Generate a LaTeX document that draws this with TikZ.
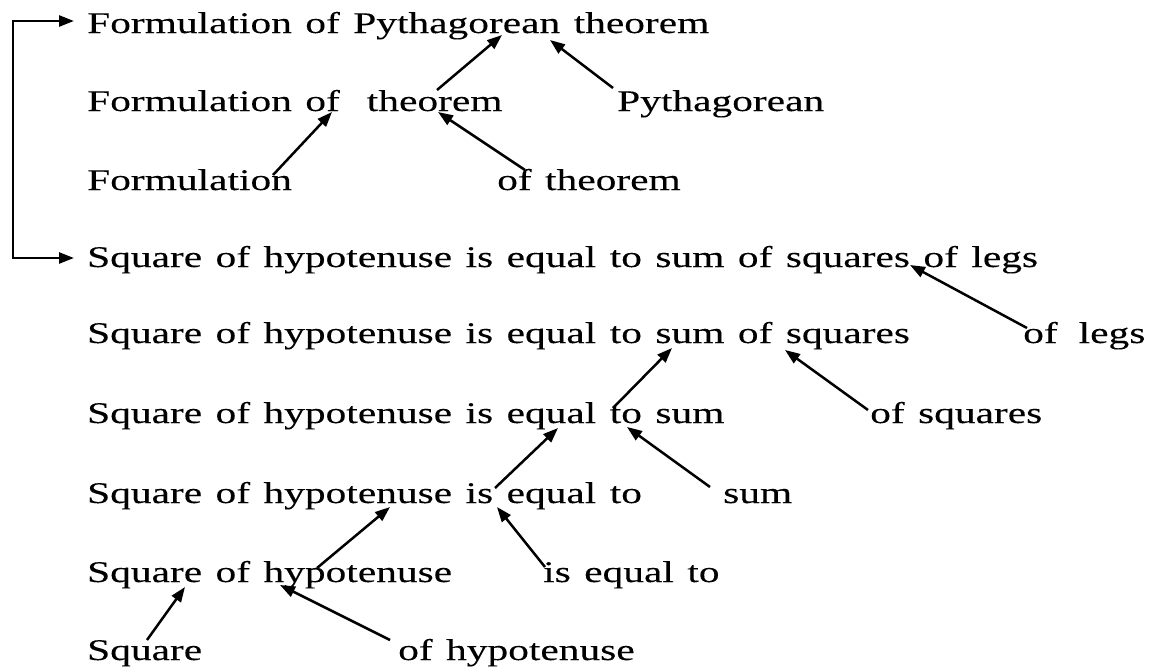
\documentclass[tikz,border=0pt]{standalone}
\usepackage{fontspec}
\setmainfont{Liberation Serif}[FakeStretch=1.38, WordSpace=1.3, FakeBold=0.15]
\usetikzlibrary{arrows.meta}
\begin{document}
\begin{tikzpicture}[x=1pt,y=-1pt,
  txt/.style={anchor=base west,inner sep=0pt,font=\fontsize{30}{36}\selectfont},
  tip/.tip={Triangle[length=15pt,width=11pt]},
  arr/.style={line width=2.5pt,-tip}]
\useasboundingbox (0,0) rectangle (1151,670);
% text lines
\node[txt] (l1)  at (87,33)  {Formulation of Pythagorean theorem};
\node[txt] (l2a) at (87,111) {Formulation of\hspace{27pt}theorem};
\node[txt] (l2b) at (617,111) {Pythagorean};
\node[txt] (l3a) at (87,190) {Formulation};
\node[txt] (l3b) at (497,190) {of theorem};
\node[txt] (l4)  at (87,267) {Square of hypotenuse is equal to sum of squares of legs};
\node[txt] (l5a) at (87,343) {Square of hypotenuse is equal to sum of squares};
\node[txt] (l5b) at (1023,343) {of\hspace{21pt}legs};
\node[txt] (l6a) at (87,423) {Square of hypotenuse is equal to sum};
\node[txt] (l6b) at (870,423) {of squares};
\node[txt] (l7a) at (87,503) {Square of hypotenuse is equal to};
\node[txt] (l7b) at (723,503) {sum};
\node[txt] (l8a) at (87,582) {Square of hypotenuse};
\node[txt] (l8b) at (543,582) {is equal to};
\node[txt] (l9a) at (87,660) {Square};
\node[txt] (l9b) at (398,660) {of hypotenuse};
% connector end points
\coordinate (b0) at (13,21);
\coordinate (b1) at (13,258);
\coordinate (b0t) at (74,21);
\coordinate (b1t) at (74,258);
\coordinate (a1s) at (273,175); \coordinate (a1e) at (332,112);
\coordinate (a2s) at (525,170); \coordinate (a2e) at (438,112);
\coordinate (a3s) at (437,90);  \coordinate (a3e) at (502,35);
\coordinate (a4s) at (613,88);  \coordinate (a4e) at (550,40);
\coordinate (a5s) at (1027,328); \coordinate (a5e) at (910,265);
\coordinate (a6s) at (868,410); \coordinate (a6e) at (785,350);
\coordinate (a7s) at (613,408); \coordinate (a7e) at (672,348);
\coordinate (a8s) at (710,487); \coordinate (a8e) at (627,427);
\coordinate (a9s) at (495,488); \coordinate (a9e) at (558,428);
\coordinate (a10s) at (545,567); \coordinate (a10e) at (497,507);
\coordinate (a11s) at (317,568); \coordinate (a11e) at (390,507);
\coordinate (a12s) at (147,640); \coordinate (a12e) at (185,587);
\coordinate (a13s) at (390,640); \coordinate (a13e) at (280,585);
% connectors
\draw[line width=2.5pt,tip-tip] (b0t) -- (b0) -- (b1) -- (b1t);
\draw[arr] (a1s) -- (a1e);
\draw[arr] (a2s) -- (a2e);
\draw[arr] (a3s) -- (a3e);
\draw[arr] (a4s) -- (a4e);
\draw[arr] (a5s) -- (a5e);
\draw[arr] (a6s) -- (a6e);
\draw[arr] (a7s) -- (a7e);
\draw[arr] (a8s) -- (a8e);
\draw[arr] (a9s) -- (a9e);
\draw[arr] (a10s) -- (a10e);
\draw[arr] (a11s) -- (a11e);
\draw[arr] (a12s) -- (a12e);
\draw[arr] (a13s) -- (a13e);
\end{tikzpicture}
\end{document}
